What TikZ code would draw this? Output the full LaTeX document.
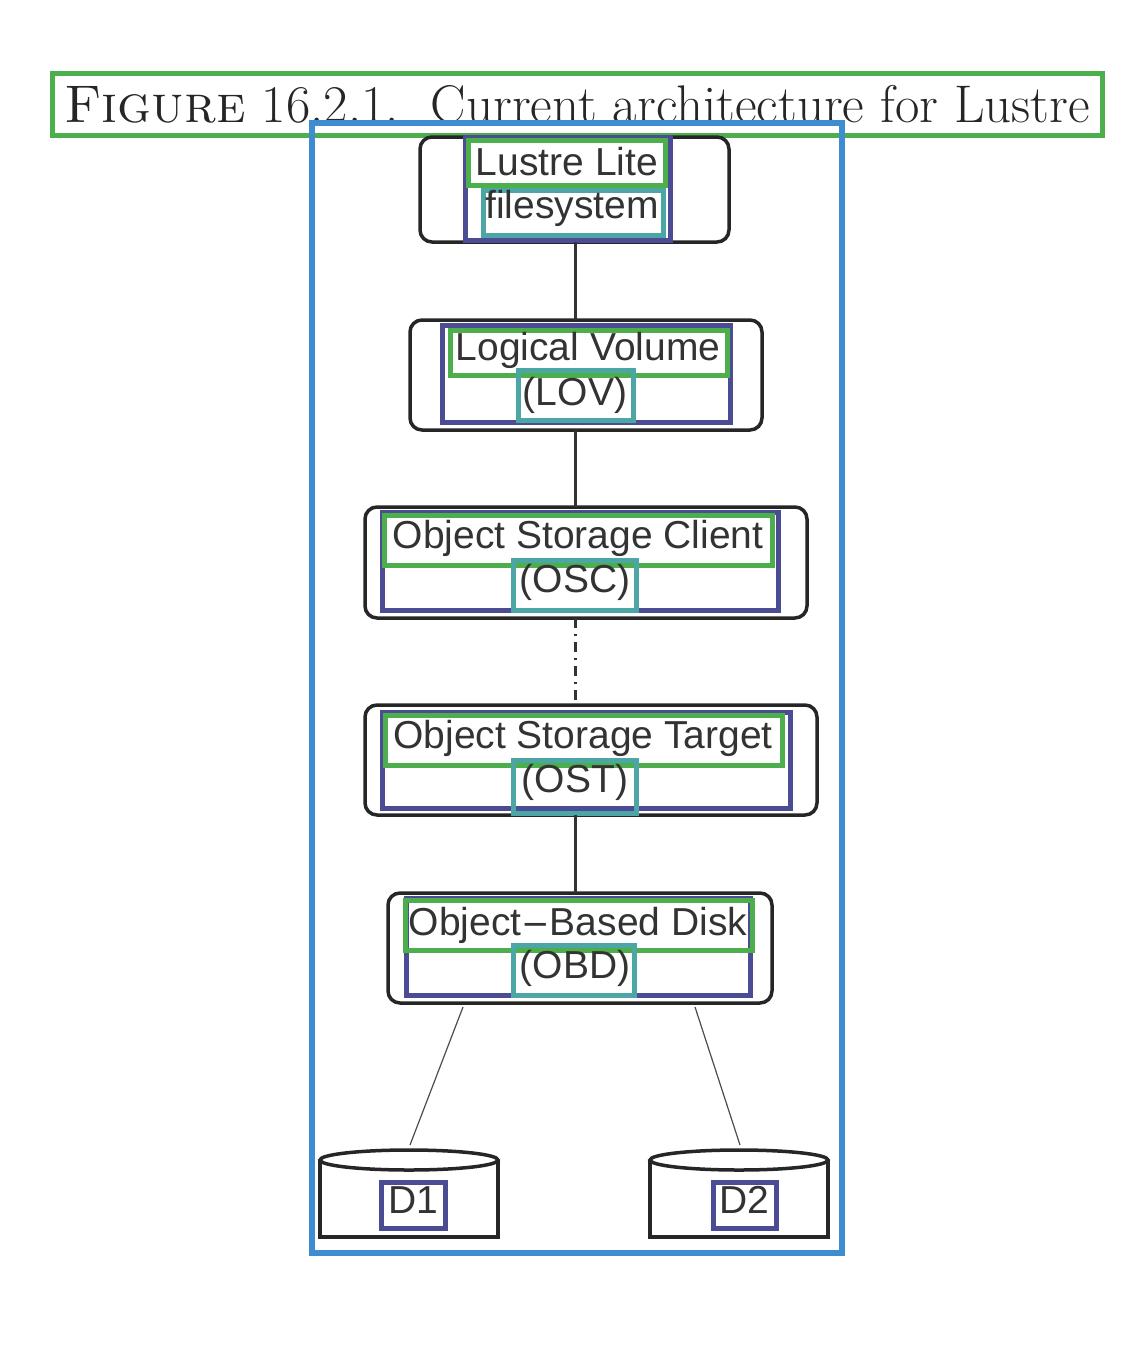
\documentclass[tikz,border=0pt]{standalone}
\usepackage{fontspec}
\setsansfont{Liberation Sans}
\usetikzlibrary{shapes.geometric}
\begin{document}
\begin{tikzpicture}[x=1pt,y=-1pt,
  blk/.style={draw=black!85,line width=3.5pt,rounded corners=12pt},
  annbase/.style={line width=5pt},
  ag/.style={annbase,draw=green!55!black!70!white},
  an/.style={annbase,draw=blue!40!black!70!white},
  ateal/.style={annbase,draw=teal!70!white},
  lbl/.style={font=\sffamily\fontsize{39}{41}\selectfont,text=black!80,inner sep=0pt},
  conn/.style={line width=3pt,draw=black!80}]
\useasboundingbox (0,0) rectangle (1146,1358);
% title
\draw[ag] (52,73) rectangle (1102,135);
\node[inner sep=0pt,font=\fontsize{53}{55}\selectfont,text=black!85] (title) at (577,104) {\textsc{Figure} 16.2.1.\ \ Current architecture for Lustre};
% outer
\draw[line width=6pt,draw=cyan!60!blue!80] (312,123) rectangle (842,1253);
% boxes
\draw[blk] (420,137) rectangle (729,242); \coordinate (b1t) at (575,137); \coordinate (b1b) at (575,242);
\draw[blk] (410,320) rectangle (762,430); \coordinate (b2t) at (575,320); \coordinate (b2b) at (575,430);
\draw[blk] (365,507) rectangle (807,618); \coordinate (b3t) at (575,507); \coordinate (b3b) at (575,618);
\draw[blk] (365,705) rectangle (817,815); \coordinate (b4t) at (575,705); \coordinate (b4b) at (575,815);
\draw[blk] (388,893) rectangle (772,1003); \coordinate (b5t) at (575,893);
\coordinate (b5l) at (463,1007); \coordinate (b5r) at (695,1007);
% annotation rects
\draw[an] (465,137) rectangle (670,240); \draw[ag] (468,140) rectangle (665,185); \draw[ateal] (483,190) rectangle (663,235);
\draw[an] (442,325) rectangle (730,422); \draw[ag] (450,330) rectangle (727,375); \draw[ateal] (518,370) rectangle (633,420);
\draw[an] (382,512) rectangle (778,610); \draw[ag] (384,515) rectangle (772,565); \draw[ateal] (513,560) rectangle (636,610);
\draw[an] (382,712) rectangle (790,808); \draw[ag] (385,715) rectangle (782,765); \draw[ateal] (513,760) rectangle (636,813);
\draw[an] (406,898) rectangle (750,995); \draw[ag] (405,900) rectangle (752,950); \draw[ateal] (513,945) rectangle (634,995);
% labels
\node[lbl] (l1a) at (567,162) {Lustre Lite};
\node[lbl] (l1b) at (572,208) {filesystem};
\node[lbl] (l2a) at (588,350) {Logical Volume};
\node[lbl] (l2b) at (575,395) {(LOV)};
\node[lbl] (l3a) at (578,538) {Object Storage Client};
\node[lbl] (l3b) at (575,582) {(OSC)};
\node[lbl] (l4a) at (583,738) {Object Storage Target};
\node[lbl] (l4b) at (575,782) {(OST)};
\node[lbl] (l5a) at (578,925) {Object{\fontspec{DejaVu Sans}\fontsize{34}{36}\selectfont−}Based Disk};
\node[lbl] (l5b) at (575,968) {(OBD)};
% connectors
\draw[conn] (b1b) -- (b2t);
\draw[conn] (b2b) -- (b3t);
\draw[conn,dash pattern=on 10pt off 6pt on 2pt off 6pt] (b3b) -- (b4t);
\draw[conn] (b4b) -- (b5t);
% cylinders
\foreach \n/\x in {1/320,2/650}{
  \draw[line width=3.5pt,draw=black!85,fill=white] (\x,1160) -- (\x,1237) -- (\x+178,1237) -- (\x+178,1160);
  \draw[line width=3.5pt,draw=black!85] (\x+89,1160) ellipse (89pt and 10pt);
}
\coordinate (d1t) at (410,1145); \coordinate (d2t) at (740,1145);
\draw[line width=1.2pt,draw=black!70] (b5l) -- (d1t);
\draw[line width=1.2pt,draw=black!70] (b5r) -- (d2t);
\draw[an] (381,1182) rectangle (445,1228); \draw[an] (713,1182) rectangle (776,1228);
\node[lbl] (d1) at (413,1200) {D1};
\node[lbl] (d2) at (744,1200) {D2};
\end{tikzpicture}
\end{document}
